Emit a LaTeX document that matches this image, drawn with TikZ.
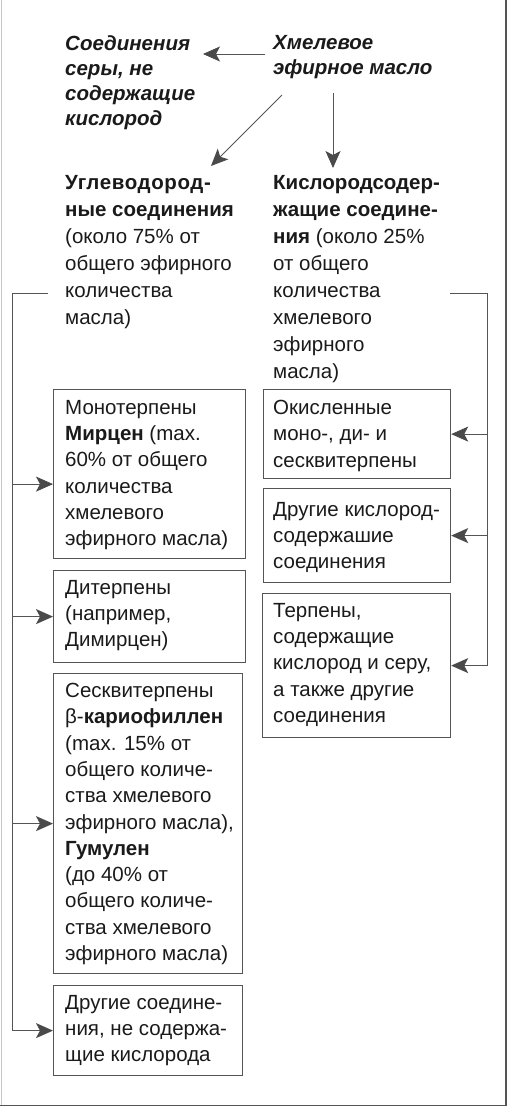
\documentclass[tikz,border=0pt]{standalone}
\usepackage{fontspec}
\setmainfont{Liberation Sans}
\usetikzlibrary{arrows.meta}
\definecolor{ln}{HTML}{555555}
\definecolor{ah}{HTML}{4A4A4A}
\definecolor{tx}{HTML}{1A1A1A}
\tikzset{
 txt/.style={anchor=north west, inner sep=0pt, align=left, text=tx, font=\fontsize{20.5}{26.3}\selectfont},
 tophead/.style={txt, font=\fontsize{20.5}{25}\selectfont\bfseries\itshape},
 midtxt/.style={txt, font=\fontsize{20.5}{27}\selectfont},
 frame/.style={draw=ln, line width=1.2pt, anchor=north west, inner sep=0pt},
 con/.style={draw=ln, line width=0.9pt},
 arr/.style={con, -{Stealth[length=17pt, width=15pt, inset=4pt, color=ah, fill=ah]}},
}
\begin{document}
\begin{tikzpicture}[x=1pt,y=-1pt]
\useasboundingbox (0,0) rectangle (509,1109);
% outer frame
\draw[draw=gray!45, line width=1pt] (1,0) -- (1,1105.5);
\draw[draw=ln, line width=1.6pt] (0,1105.5) -- (506,1105.5) -- (506,0);

% top texts
\node[tophead] (sulfur) at (65,35) {Соединения\\серы, не\\содержащие\\кислород};
\node[tophead] (oil) at (273,35) {Хмелевое\\эфирное масло};

\node[midtxt] (hydro) at (65,175) {\textbf{\addfontfeature{LetterSpace=3}Углеводород-}\\\textbf{ные соединения}\\(около 75\% от\\общего эфирного\\количества\\масла)};
\node[midtxt] (oxy) at (273,175) {\textbf{Кислородсодер-}\\\textbf{жащие соедине-}\\\textbf{ния} (около 25\%\\от общего\\количества\\хмелевого\\эфирного\\масла)};

% top arrows
\coordinate (o1) at (265,54);
\coordinate (s1) at (203,54);
\coordinate (o2) at (282,95);
\coordinate (h1) at (211,166);
\coordinate (o3) at (333,93);
\coordinate (x1) at (333,168);
\draw[arr] (o1) -- (s1);
\draw[arr] (o2) -- (h1);
\draw[arr] (o3) -- (x1);

% left boxes
\node[frame, minimum width=192pt, minimum height=169pt] (mono) at (53,389) {};
\node[frame, minimum width=192pt, minimum height=92pt] (di) at (53,570) {};
\node[frame, minimum width=189pt, minimum height=300pt] (sesq) at (53,673) {};
\node[frame, minimum width=189pt, minimum height=90pt] (other) at (53,985) {};

\node[txt] (monot) at (65,400) {Монотерпены\\\textbf{Мирцен} (max.\\60\% от общего\\количества\\хмелевого\\эфирного масла)};
\node[txt] (dit) at (65,580) {Дитерпены\\(например,\\Димирцен)};
\node[txt] (sesqt) at (65,683) {Сесквитерпены\\β-\textbf{кариофиллен}\\(max. 15\% от\\общего количе-\\ства хмелевого\\эфирного масла),\\\textbf{Гумулен}\\(до 40\% от\\общего количе-\\ства хмелевого\\эфирного масла)};
\node[txt] (othert) at (65,995) {Другие соедине-\\ния, не содержа-\\щие кислорода};

% right boxes
\node[frame, minimum width=187pt, minimum height=89pt] (r1) at (263,389) {};
\node[frame, minimum width=187pt, minimum height=94pt] (r2) at (263,488) {};
\node[frame, minimum width=188pt, minimum height=144pt] (r3) at (262,593) {};

\node[txt] (r1t) at (273,400) {Окисленные\\моно-, ди- и\\сесквитерпены};
\node[txt] (r2t) at (273,502) {Другие кислород-\\содержашие\\соединения};
\node[txt] (r3t) at (273,603) {Терпены,\\содержащие\\кислород и серу,\\а также другие\\соединения};

% left bus
\coordinate (lh) at (48,293);
\coordinate (lb) at (12,293);
\coordinate (mw) at ([yshift=-10pt]mono.west);
\draw[con] (lh) -- (lb) -- (lb |- other.west);
\draw[arr] (lb |- other.west) -- (other.west);
\draw[arr] (lb |- mw) -- (mw);
\draw[arr] (lb |- di.west) -- (di.west);
\draw[arr] (lb |- sesq.west) -- (sesq.west);

% right bus
\coordinate (rh) at (450,293);
\coordinate (rb) at (487,293);
\draw[con] (rh) -- (rb) -- (rb |- r3.east);
\draw[arr] (rb |- r3.east) -- (r3.east);
\draw[arr] (rb |- r1.east) -- (r1.east);
\draw[arr] (rb |- r2.east) -- (r2.east);
\end{tikzpicture}
\end{document}
